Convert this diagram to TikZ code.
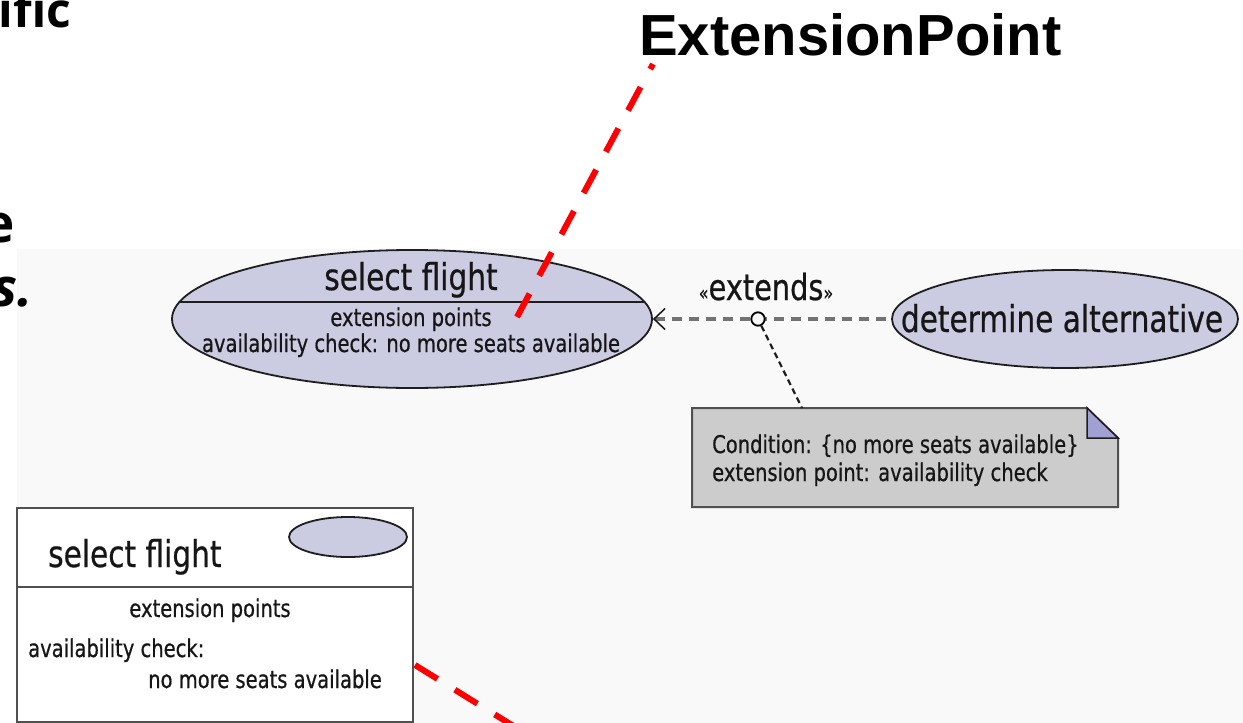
\documentclass[tikz,border=0pt]{standalone}
\usepackage{fontspec}
\usetikzlibrary{shapes.geometric,arrows.meta}
\newfontfamily\umlfont[FakeStretch=0.8,FakeBold=0.6]{DejaVu Sans}
\newfontfamily\arialfont{Liberation Sans}
\newfontfamily\slidefont{Open Sans}
\definecolor{lav}{RGB}{203,203,226}
\definecolor{lavdark}{RGB}{160,160,210}
\definecolor{notegray}{RGB}{204,204,204}
\definecolor{edge}{RGB}{30,30,30}
\definecolor{boxedge}{RGB}{80,80,80}
\definecolor{txt}{RGB}{22,22,22}
\definecolor{bggray}{RGB}{249,249,249}
\definecolor{linkgray}{RGB}{115,115,115}
\begin{document}
\begin{tikzpicture}[x=1pt,y=-1pt,
  uctext/.style={font=\umlfont\fontsize{37}{44}\selectfont, text=txt, inner sep=0pt, anchor=base},
  smalltext/.style={font=\umlfont\fontsize{24.4}{29}\selectfont, text=txt, inner sep=0pt, anchor=base},
  usecase/.style={ellipse, draw=edge, line width=1.8pt, fill=lav, inner sep=0pt},
  redlink/.style={draw=red, line width=6pt, dash pattern=on 26.5pt off 20.4pt},
  extlink/.style={draw=linkgray, line width=3.5pt, dash pattern=on 10pt off 7pt},
  notelink/.style={draw=edge, line width=2.2pt, dash pattern=on 6pt off 4pt},
  slidebold/.style={font=\slidefont\bfseries\fontsize{48}{56}\selectfont, inner sep=0pt},
  slidebig/.style={font=\slidefont\bfseries\fontsize{53}{60}\selectfont, inner sep=0pt}
]
\useasboundingbox (0,0) rectangle (1243,723);
\clip (0,0) rectangle (1243,723);
\fill[white] (0,0) rectangle (1243,723);
\fill[bggray] (17,249) rectangle (1243,723);

% cut slide text at the left
\node[slidebold, anchor=base west] (s1) at (-1.5,27) {ific};
\node[slidebig, anchor=base east] (s2) at (15.5,242) {e};
\node[slidebig, font=\slidefont\bfseries\itshape\fontsize{53}{60}\selectfont, anchor=base east] (s3) at (33,306) {s.};

% title
\node[font=\arialfont\bfseries\fontsize{58}{66}\selectfont, inner sep=0pt, anchor=base west] (ep) at (639,55) {ExtensionPoint};

% use case: select flight
\node[usecase, minimum width=480pt, minimum height=138pt] (sf) at (412,319) {};
\draw[edge, line width=1.8pt] (179.4,302) -- (644.6,302);
\node[uctext] (sft) at (411,290) {select flight};
\node[smalltext] (sfe) at (411,326) {extension points};
\node[smalltext] (sfa) at (411,352) {availability check: no more seats available};

% use case: determine alternative
\node[usecase, minimum width=346pt, minimum height=98pt] (da) at (1065,319) {};
\node[uctext] (dat) at (1062,332) {determine alternative};

% extends relation
\draw[extlink, {Straight Barb[length=11pt, width=21pt, line width=1.6pt, color=edge]}-] (sf.east) -- (da.west);
\node[uctext, font=\umlfont\fontsize{36}{42}\selectfont] (ext) at (766,300) {{\fontsize{20}{22}\selectfont «}extends{\fontsize{20}{22}\selectfont »}};
\node[circle, draw=black, line width=1.8pt, fill=bggray, minimum size=13.4pt, inner sep=0pt] (xc) at (758,319) {};

% note
\coordinate (nconn) at (802,408);
\path[fill=notegray, draw=boxedge, line width=2pt] (692,408) -- (1087,408) -- (1118,438) -- (1118,507) -- (692,507) -- cycle;
\path[fill=lavdark, draw=edge, line width=1.5pt] (1087,408) -- (1118,438) -- (1087,438) -- cycle;
\node[smalltext, anchor=base west] (n1) at (712,453) {Condition: \{no more seats available\}};
\node[smalltext, anchor=base west] (n2) at (712,481) {extension point: availability check};
\draw[notelink] (xc) -- (nconn);

% box notation
\draw[draw=boxedge, line width=2.2pt, fill=white] (17,508) rectangle (413,722);
\draw[draw=boxedge, line width=2.2pt] (17,587) -- (413,587);
\node[usecase, minimum width=118pt, minimum height=40pt] (ic) at (348,537) {};
\node[uctext, anchor=base west] (bt) at (48,567) {select flight};
\node[smalltext] (be) at (210,617) {extension points};
\node[smalltext, anchor=base west] (ba) at (28,657) {availability check:};
\node[smalltext, anchor=base east] (bn) at (382,688) {no more seats available};

% red pointers
\coordinate (epa) at (653,64);
\coordinate (epb) at (517,317);
\draw[redlink] (epb) -- (epa);
\coordinate (bxa) at (415,665);
\coordinate (bxb) at (535,739.4);
\draw[redlink] (bxa) -- (bxb);
\end{tikzpicture}
\end{document}
